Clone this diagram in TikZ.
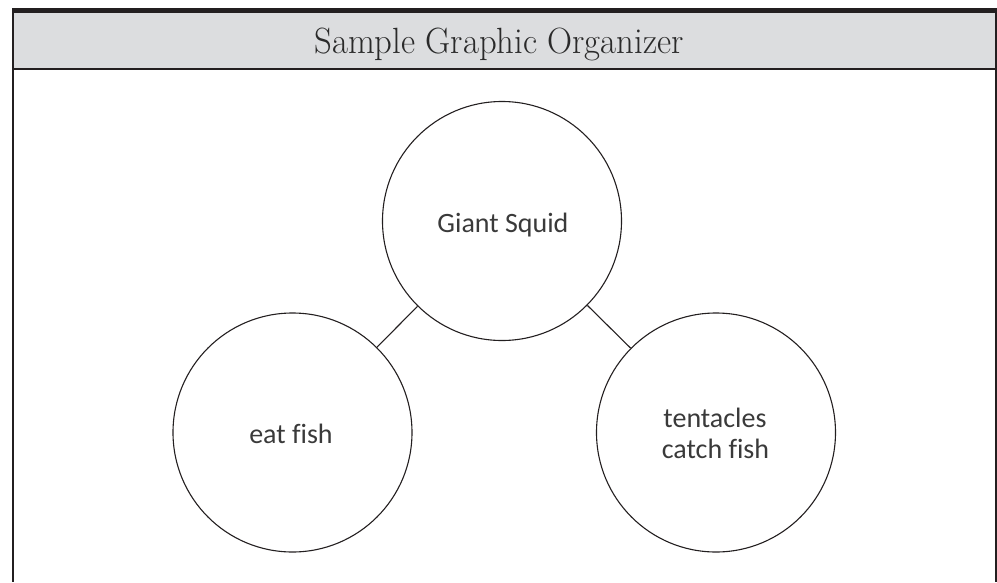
\documentclass[tikz,border=0pt]{standalone}
\usepackage{fontspec}
\newfontfamily\handfont[Ligatures=NoCommon]{Carlito}
\definecolor{framec}{HTML}{231F20}
\definecolor{hdrc}{HTML}{DCDDDF}
\definecolor{txtc}{HTML}{3A3A3A}
\definecolor{titlec}{HTML}{2A2A2A}
\tikzset{
  bubble/.style={circle, draw=framec, line width=1.1pt, minimum size=239pt, inner sep=0pt},
  handtxt/.style={anchor=base, text=txtc, font=\handfont\fontsize{28}{31}\selectfont, inner sep=0pt},
  link/.style={draw=framec, line width=1.1pt},
  titletxt/.style={anchor=base, text=titlec, font=\fontsize{36.5}{42}\selectfont, inner sep=0pt}
}
\begin{document}
\begin{tikzpicture}[x=1pt, y=-1pt]
\useasboundingbox (0,0) rectangle (997,582);
% header
\fill[framec] (12,8) rectangle (996.5,13);
\fill[hdrc] (13.7,13) rectangle (994.5,68);
\draw[framec, line width=2pt] (12,68.8) -- (996.5,68.8);
\draw[framec, line width=1.8pt] (12.8,8) -- (12.8,582);
\draw[framec, line width=2pt] (995.5,8) -- (995.5,582);
\node[titletxt] (title) at (499,53) {\scalebox{0.95}[1]{Sample Graphic Organizer}};
% circles
\node[bubble] (top) at (502,221) {};
\node[bubble] (left) at (292.5,432.5) {};
\node[bubble] (right) at (716,432.5) {};
\draw[link] (top) -- (left);
\draw[link] (top) -- (right);
% texts
\node[handtxt] (ttop) at (503,232) {Giant Squid};
\node[handtxt] (tleft) at (291,443) {eat fish};
\node[handtxt] (tr1) at (715,427) {tentacles};
\node[handtxt] (tr2) at (715.5,458) {catch fish};
\end{tikzpicture}
\end{document}
